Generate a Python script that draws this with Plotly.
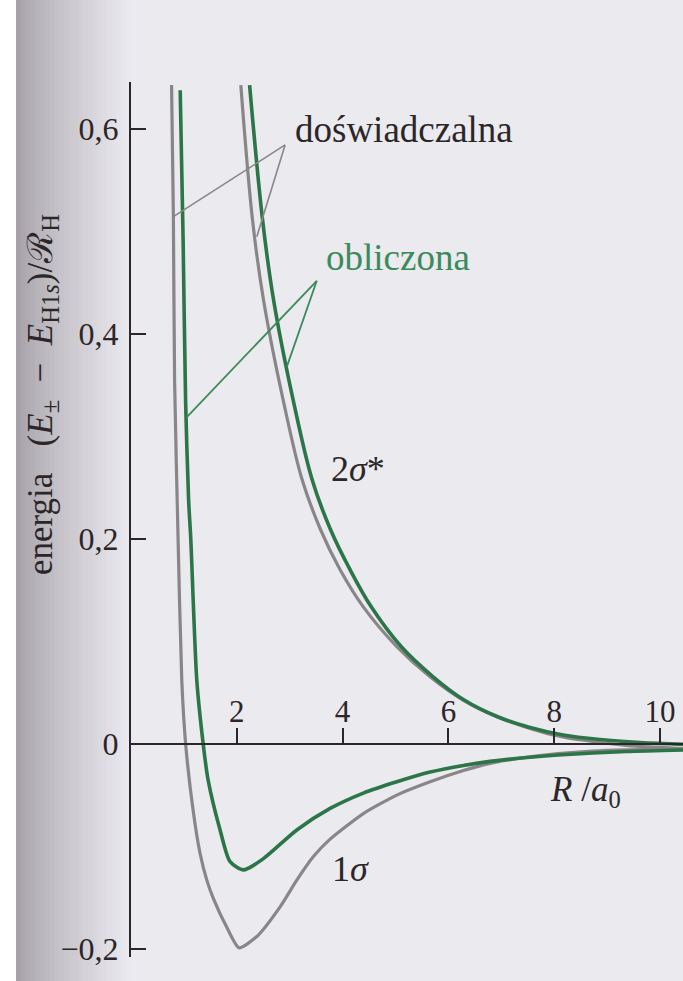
import plotly.graph_objects as go

# ---------------- data ----------------
# 1σ, experimental (gray)
R_exp_1s = [0.767, 0.801, 0.824, 0.890, 0.960, 1.036, 1.180, 1.306, 1.433, 1.558, 1.811, 2.043,
            2.378, 2.819, 3.134, 3.448, 3.764, 4.393, 5.025, 5.654, 6.284, 6.788, 7.431,
            8.074, 8.716, 9.359, 10.44]
E_exp_1s = [0.643, 0.515, 0.355, 0.200, 0.062, -0.002, -0.067, -0.107, -0.133, -0.151, -0.179, -0.199,
            -0.188, -0.159, -0.133, -0.110, -0.093, -0.068, -0.050, -0.037, -0.026, -0.019, -0.0134,
            -0.0095, -0.007, -0.0058, -0.005]

# 1σ, calculated (green)
R_calc_1s = [0.930, 0.985, 1.032, 1.089, 1.130, 1.244, 1.369, 1.457, 1.684, 1.873, 2.129,
             2.503, 3.134, 3.764, 4.393, 5.025, 5.654, 6.284, 6.788, 7.431, 8.074, 9.359, 10.44]
E_calc_1s = [0.638, 0.492, 0.335, 0.238, 0.200, 0.062, -0.002, -0.035, -0.084, -0.115, -0.123,
             -0.112, -0.084, -0.063, -0.048, -0.037, -0.0275, -0.021, -0.0171, -0.0135, -0.0108, -0.0075, -0.006]

# 2σ*, experimental (gray)
R_exp_2s = [2.076, 2.298, 2.506, 2.875, 3.234, 3.584, 3.953, 4.388, 5.025, 5.654,
            6.278, 6.915, 7.860, 8.490, 9.360, 10.44]
E_exp_2s = [0.643, 0.511, 0.433, 0.336, 0.258, 0.209, 0.170, 0.134, 0.095, 0.0655,
            0.0428, 0.0265, 0.0103, 0.0040, -0.0015, -0.0045]

# 2σ*, calculated (green)
R_calc_2s = [2.242, 2.488, 2.696, 3.064, 3.423, 3.773, 4.141, 4.538, 5.106, 5.711,
             6.297, 6.921, 7.544, 8.168, 8.868, 9.624, 10.44]
E_calc_2s = [0.643, 0.511, 0.433, 0.336, 0.258, 0.209, 0.170, 0.134, 0.095, 0.0655,
             0.0428, 0.0267, 0.0159, 0.0086, 0.0042, 0.0013, -0.0005]

x_tickvals = [2, 4, 6, 8, 10]
x_ticktext = ["2", "4", "6", "8", "10"]
y_tickvals = [-0.2, 0, 0.2, 0.4, 0.6]
y_ticktext = ["\u22120,2", "0", "0,2", "0,4", "0,6"]

# ---------------- styling ----------------
W, H = 683, 981
ML, MR, MT, MB = 131, 0, 82, 24
XR = [0, 10.435]
YR = [-0.208, 0.646]
SERIF = "Liberation Serif, Times New Roman, serif"
INK = "#2c2628"
GRAY = "#8a8588"
GREEN = "#2b7548"
GREEN_TXT = "#3b8a5c"
PAPER = "#eaeaef"

fig = go.Figure()

def add_curve(xs, ys, color, width, smooth):
    fig.add_trace(go.Scatter(x=xs, y=ys, mode="lines",
                             line=dict(color=color, width=width, shape="spline", smoothing=smooth),
                             hoverinfo="skip", showlegend=False))

add_curve(R_exp_1s, E_exp_1s, GRAY, 3.2, 0.6)
add_curve(R_exp_2s, E_exp_2s, GRAY, 3.2, 1.0)
add_curve(R_calc_1s, E_calc_1s, GREEN, 3.6, 0.7)
add_curve(R_calc_2s, E_calc_2s, GREEN, 3.6, 1.0)

shapes = []
pw = W - ML - MR
ph = H - MT - MB
def px2paper(px):
    return (px - ML) / pw
Y0 = -MB / ph - 0.01
Y1 = 1 + MT / ph + 0.01
# white border at far left, then the binding shadow gradient
shapes.append(dict(type="rect", xref="paper", yref="paper", x0=px2paper(-2), x1=px2paper(16),
                   y0=Y0, y1=Y1, fillcolor="#ffffff", line=dict(width=0), layer="below"))
c0 = (166, 161, 168)
c1 = (234, 233, 239)
n = 24
for i in range(n):
    a = 16 + i * (131 - 16) / n
    b = 16 + (i + 1) * (131 - 16) / n + 0.6
    t = (i / (n - 1)) ** 0.8
    col = tuple(int(round(c0[k] + (c1[k] - c0[k]) * t)) for k in range(3))
    shapes.append(dict(type="rect", xref="paper", yref="paper", x0=px2paper(a), x1=px2paper(b),
                       y0=Y0, y1=Y1, fillcolor="rgb(%d,%d,%d)" % col, line=dict(width=0), layer="below"))

# leader lines
def leader(x0, y0, x1, y1, color, w):
    shapes.append(dict(type="line", xref="x", yref="y", x0=x0, y0=y0, x1=x1, y1=y1,
                       line=dict(color=color, width=w), layer="above"))

leader(2.913, 0.5846, 0.801, 0.5146, GRAY, 1.6)
leader(2.913, 0.5846, 2.378, 0.495, GRAY, 1.6)
leader(3.512, 0.452, 1.055, 0.319, GREEN_TXT, 1.8)
leader(3.512, 0.452, 2.945, 0.368, GREEN_TXT, 1.8)

annotations = [
    dict(x=5.163, y=0.600, text="doświadczalna", font=dict(family=SERIF, size=37, color=INK)),
    dict(x=5.055, y=0.475, text="obliczona", font=dict(family=SERIF, size=37, color=GREEN_TXT)),
    dict(x=4.30, y=0.268, text="2<i>σ</i>*", font=dict(family=SERIF, size=36, color=INK)),
    dict(x=4.157, y=-0.122, text="1<i>σ</i>", font=dict(family=SERIF, size=36, color=INK)),
    dict(x=8.60, y=-0.046, text="<i>R</i> /<i>a</i><sub>0</sub>", font=dict(family=SERIF, size=35, color=INK)),
    dict(xref="paper", yref="paper", x=(43 - ML) / pw, y=1 - (395 - MT) / ph,
         text="energia\u00a0\u00a0\u00a0(<i>E</i><sub>±</sub>\u00a0\u00a0−\u00a0\u00a0<i>E</i><sub>H1<i>s</i></sub>)/ℛ<sub>H</sub>",
         textangle=-90, font=dict(family=SERIF, size=35, color=INK)),
]
for a in annotations:
    a.setdefault("xref", "x")
    a.setdefault("yref", "y")
    a.update(showarrow=False, xanchor="center", yanchor="middle")

fig.update_layout(
    width=W, height=H,
    margin=dict(l=ML, r=MR, t=MT, b=MB, pad=0),
    paper_bgcolor=PAPER, plot_bgcolor="rgba(0,0,0,0)",
    shapes=shapes, annotations=annotations, showlegend=False,
    xaxis=dict(range=XR, showgrid=False, zeroline=False, showline=True, linecolor=INK, linewidth=2,
               anchor="free", position=(0 - YR[0]) / (YR[1] - YR[0]), side="top",
               ticks="outside", ticklen=15, tickwidth=2, tickcolor=INK,
               tickvals=x_tickvals, ticktext=x_ticktext, ticklabelstandoff=-7,
               tickfont=dict(family=SERIF, size=31, color=INK), fixedrange=True),
    yaxis=dict(range=YR, showgrid=False, zeroline=False, showline=True, linecolor=INK, linewidth=2,
               ticks="inside", ticklen=15, tickwidth=2, tickcolor=INK,
               tickvals=y_tickvals, ticktext=y_ticktext, ticklabelstandoff=4,
               tickfont=dict(family=SERIF, size=32, color=INK), fixedrange=True),
)

fig.write_html("out.html", config={"displayModeBar": False},
               post_script="document.body.style.margin='0';document.body.style.overflow='hidden';")
